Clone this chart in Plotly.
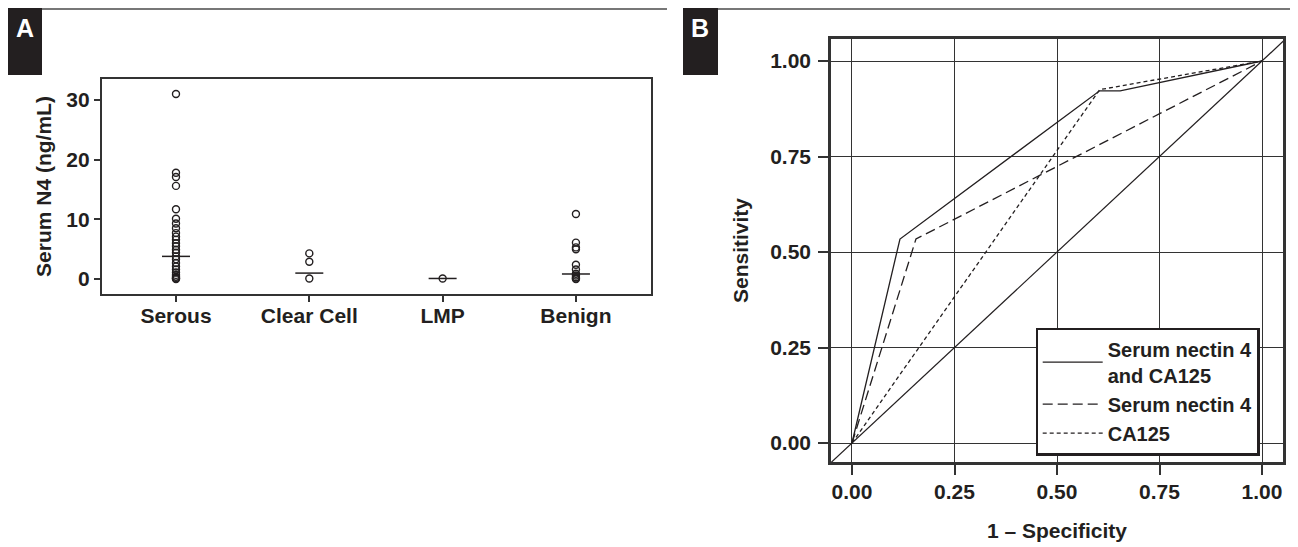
import plotly.graph_objects as go

# The page body has an 8px margin, so the figure is drawn 8px smaller and
# every reference pixel position is shifted by that offset.
OFF = 8
W, H = 1298 - OFF, 547 - OFF
INK = "#231f20"
FONT = "Liberation Sans"

# ---------------- Panel A data ----------------
categories = ["Serous", "Clear Cell", "LMP", "Benign"]
serous_vals = [31.0, 17.8, 17.1, 15.6, 11.7, 10.1, 9.3, 8.5, 7.7, 7.1, 6.6, 6.0, 5.5,
               4.9, 4.4, 3.8, 3.3, 2.7, 2.1, 1.6, 1.1, 0.7, 0.4, 0.2, 0.1, 0.0]
clear_vals = [4.3, 2.9, 0.1]
lmp_vals = [0.1]
benign_vals = [10.9, 6.1, 5.3, 5.0, 2.4, 1.6, 0.9, 0.6, 0.3, 0.1, 0.0]
medians = [3.8, 1.0, 0.1, 0.85]
a_yticks = [0, 10, 20, 30]

# ---------------- Panel B data ----------------
combo_fpr = [0.0, 0.117, 0.604, 0.654, 1.0]
combo_tpr = [0.0, 0.534, 0.922, 0.922, 1.0]
n4_fpr = [0.0, 0.156, 1.0]
n4_tpr = [0.0, 0.534, 1.0]
ca_fpr = [0.0, 0.604, 1.0]
ca_tpr = [0.0, 0.925, 1.0]
chance = [-0.1, 1.1]
b_ticks = [0.0, 0.25, 0.5, 0.75, 1.0]
b_ticktext = ["0.00", "0.25", "0.50", "0.75", "1.00"]


def px_x(p):
    return (p - OFF) / W


def px_y(p):
    return 1 - (p - OFF) / H


fig = go.Figure()

groups = [serous_vals, clear_vals, lmp_vals, benign_vals]
for cat, vals in zip(categories, groups):
    fig.add_trace(go.Scatter(
        x=[cat] * len(vals), y=vals, mode="markers", xaxis="x", yaxis="y",
        marker=dict(symbol="circle-open", size=7, color=INK, line=dict(width=1.4, color=INK)),
        showlegend=False, hoverinfo="y"))

fig.add_trace(go.Scatter(
    x=categories, y=medians, mode="markers", xaxis="x", yaxis="y",
    marker=dict(symbol="line-ew", size=20, color=INK, line=dict(width=1.5, color=INK)),
    showlegend=False))

# Panel B
fig.add_trace(go.Scatter(x=chance, y=chance, mode="lines", xaxis="x2", yaxis="y2",
                         line=dict(color=INK, width=1.2), showlegend=False, hoverinfo="skip"))
fig.add_trace(go.Scatter(x=combo_fpr, y=combo_tpr, mode="lines", xaxis="x2", yaxis="y2",
                         name="Serum nectin 4<br>and CA125",
                         line=dict(color=INK, width=1.3, dash="solid")))
fig.add_trace(go.Scatter(x=n4_fpr, y=n4_tpr, mode="lines", xaxis="x2", yaxis="y2",
                         name="Serum nectin 4",
                         line=dict(color=INK, width=1.3, dash="10px,5px")))
fig.add_trace(go.Scatter(x=ca_fpr, y=ca_tpr, mode="lines", xaxis="x2", yaxis="y2",
                         name="CA125",
                         line=dict(color=INK, width=1.3, dash="4px,3px")))

tickfont = dict(family=FONT, size=21, color=INK, weight="bold")
titlefont = dict(family=FONT, size=21, color=INK, weight="bold")

fig.update_layout(
    width=W, height=H,
    margin=dict(l=0, r=0, t=0, b=0),
    paper_bgcolor="white", plot_bgcolor="white",
    font=dict(family=FONT, color=INK),
    xaxis=dict(domain=[px_x(102), px_x(651)], anchor="y", type="category",
               categoryorder="array", categoryarray=categories,
               range=[-0.555, 3.563], showgrid=False, zeroline=False,
               showline=True, linewidth=2.2, linecolor="#333", mirror=True,
               ticks="outside", ticklen=6, tickwidth=1.5, tickcolor="#333",
               tickfont=tickfont, ticklabelstandoff=-4),
    yaxis=dict(domain=[px_y(294), px_y(79)], anchor="x",
               range=[-2.5, 33.5], tickvals=a_yticks, showgrid=False, zeroline=False,
               showline=True, linewidth=2.2, linecolor="#333", mirror=True,
               ticks="outside", ticklen=6, tickwidth=1.5, tickcolor="#333",
               tickfont=tickfont, ticklabelstandoff=0,
               title=dict(text="Serum N4 (ng/mL)", font=titlefont, standoff=9)),
    xaxis2=dict(domain=[px_x(831), px_x(1283)], anchor="y2",
                range=[-0.0512, 1.0512], tickvals=b_ticks, ticktext=b_ticktext,
                showgrid=True, gridcolor="#333", gridwidth=1.3, zeroline=False,
                showline=True, linewidth=2.5, linecolor="#333", mirror=True,
                ticks="outside", ticklen=10, tickwidth=2, tickcolor="#333",
                tickfont=tickfont, ticklabelstandoff=-1,
                title=dict(text="1 – Specificity", font=titlefont, standoff=22)),
    yaxis2=dict(domain=[px_y(462), px_y(39)], anchor="x2",
                range=[-0.0497, 1.0576], tickvals=b_ticks, ticktext=b_ticktext,
                showgrid=True, gridcolor="#333", gridwidth=1.3, zeroline=False,
                showline=True, linewidth=2.5, linecolor="#333", mirror=True,
                ticks="outside", ticklen=10, tickwidth=2, tickcolor="#333",
                tickfont=tickfont, ticklabelstandoff=3,
                title=dict(text="Sensitivity", font=titlefont, standoff=16)),
    legend=dict(x=px_x(1147.5), xanchor="center", y=px_y(391.5), yanchor="middle",
                bgcolor="white", bordercolor=INK, borderwidth=2.2,
                font=dict(family=FONT, size=20, color=INK, weight="bold"),
                itemwidth=60, tracegroupgap=0),
    showlegend=True,
)

# Panel decorations: rule lines and black label tabs
shapes = [
    dict(type="line", xref="paper", yref="paper", x0=px_x(8), x1=px_x(667),
         y0=px_y(9), y1=px_y(9), line=dict(color="#777", width=2)),
    dict(type="line", xref="paper", yref="paper", x0=px_x(683), x1=px_x(1298),
         y0=px_y(9), y1=px_y(9), line=dict(color="#777", width=2)),
    dict(type="rect", xref="paper", yref="paper", x0=px_x(8), x1=px_x(42),
         y0=px_y(75), y1=px_y(8), fillcolor="#231f20", line=dict(width=0)),
    dict(type="rect", xref="paper", yref="paper", x0=px_x(683), x1=px_x(718),
         y0=px_y(75), y1=px_y(8), fillcolor="#231f20", line=dict(width=0)),
]
fig.update_layout(shapes=shapes)
fig.add_annotation(x=px_x(25), y=px_y(28), xref="paper", yref="paper", text="A",
                   xanchor="center", yanchor="middle",
                   showarrow=False, font=dict(family=FONT, size=25, color="white", weight="bold"))
fig.add_annotation(x=px_x(700.5), y=px_y(28), xref="paper", yref="paper", text="B",
                   xanchor="center", yanchor="middle",
                   showarrow=False, font=dict(family=FONT, size=25, color="white", weight="bold"))

fig.write_html("out.html")
